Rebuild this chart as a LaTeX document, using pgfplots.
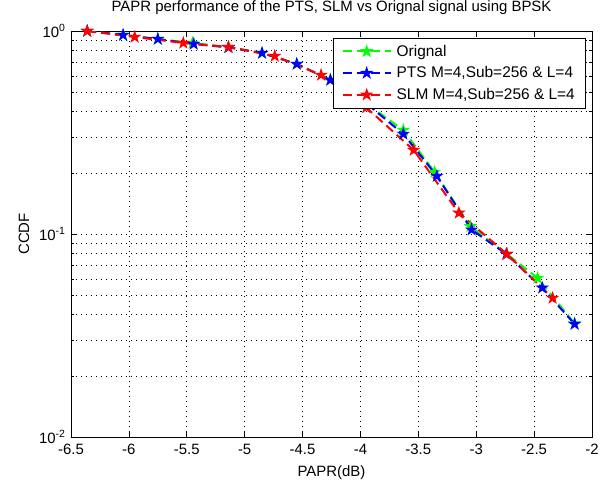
\documentclass[border=0pt]{standalone}
\usepackage{fontspec}
\setmainfont{Liberation Sans}
\usepackage{pgfplots}
\pgfplotsset{compat=1.18}

% filled five-pointed star, like the MATLAB 'p' marker
\pgfdeclareplotmark{pentagram}{%
  \pgfpathmoveto{\pgfqpoint{0pt}{\pgfplotmarksize}}%
  \pgfpathlineto{\pgfqpoint{-0.2245\pgfplotmarksize}{0.309\pgfplotmarksize}}%
  \pgfpathlineto{\pgfqpoint{-0.9511\pgfplotmarksize}{0.309\pgfplotmarksize}}%
  \pgfpathlineto{\pgfqpoint{-0.3633\pgfplotmarksize}{-0.118\pgfplotmarksize}}%
  \pgfpathlineto{\pgfqpoint{-0.5878\pgfplotmarksize}{-0.809\pgfplotmarksize}}%
  \pgfpathlineto{\pgfqpoint{0pt}{-0.382\pgfplotmarksize}}%
  \pgfpathlineto{\pgfqpoint{0.5878\pgfplotmarksize}{-0.809\pgfplotmarksize}}%
  \pgfpathlineto{\pgfqpoint{0.3633\pgfplotmarksize}{-0.118\pgfplotmarksize}}%
  \pgfpathlineto{\pgfqpoint{0.9511\pgfplotmarksize}{0.309\pgfplotmarksize}}%
  \pgfpathlineto{\pgfqpoint{0.2245\pgfplotmarksize}{0.309\pgfplotmarksize}}%
  \pgfpathclose
  \pgfusepathqfillstroke}

\begin{document}
\begin{tikzpicture}[font=\fontsize{15}{18}\selectfont]
\useasboundingbox (-71bp,-51bp) rectangle (536bp,437bp);
\begin{axis}[
  scale only axis, width=521bp, height=406bp,
  at={(0,0)}, anchor=south west,
  ymode=log,
  xmin=-6.5, xmax=-2, ymin=0.01, ymax=1,
  xtick={-6.5,-6,-5.5,-5,-4.5,-4,-3.5,-3,-2.5,-2},
  ytick={0.01,0.1,1},
  yticklabels={10\textsuperscript{-2},10\textsuperscript{-1},10\textsuperscript{0}},
  minor ytick={0.02,0.03,0.04,0.05,0.06,0.07,0.08,0.09,0.2,0.3,0.4,0.5,0.6,0.7,0.8,0.9},
  /pgf/number format/fixed,
  /pgf/number format/assume math mode=true,
  xticklabel style={anchor=base, yshift=-17bp},
  yticklabel style={xshift=-2bp},
  tick align=inside,
  major tick length=5bp, minor tick length=3bp,
  tick style={black, line width=0.6bp},
  axis line style={line width=0.8bp},
  grid=both,
  major grid style={black, line width=0.7bp, dash pattern=on 1bp off 4bp},
  minor grid style={black, line width=0.7bp, dash pattern=on 1bp off 4bp},
  title={PAPR performance of the PTS, SLM vs Orignal signal using BPSK},
  title style={at={(axis description cs:0.5,1)}, anchor=base, inner sep=0pt, yshift=14bp},
  xlabel={PAPR(dB)},
  x label style={at={(axis description cs:0.5,0)}, anchor=base, inner sep=0pt, yshift=-39bp},
  ylabel={CCDF},
  y label style={at={(axis description cs:-0.0806,0.5)}, anchor=base, inner sep=0pt},
  legend style={at={(0.9866,0.983)}, anchor=north east, draw=black,
    fill=white, font=\fontsize{15.5}{18}\selectfont, cells={anchor=west},
    inner xsep=8bp, inner ysep=5bp, row sep=5bp},
  legend image code/.code={%
    \draw[line width=2bp, dash pattern=on 9bp off 5bp, mark repeat=2, mark phase=2, #1]
      plot coordinates {(0bp,0bp) (24bp,0bp) (48bp,0bp)};
    \path (51bp,0bp);},
  every axis plot/.append style={line width=2bp, dash pattern=on 9bp off 5bp,
    mark=pentagram, mark size=5.5bp, mark options={solid, line width=1bp}},
]
\addplot[color={rgb,1:red,0;green,1;blue,0}] coordinates {
 (-6.36,1.0) (-6.05,0.955) (-5.75,0.913) (-5.45,0.873) (-5.14,0.834)
 (-4.85,0.779) (-4.55,0.688) (-4.26,0.574) (-3.95,0.44) (-3.63,0.325)
 (-3.36,0.202) (-3.05,0.109) (-2.735,0.0797) (-2.47,0.0607) (-2.15,0.0362)
};
\addplot[color={rgb,1:red,0;green,0;blue,1}] coordinates {
 (-6.36,1.0) (-6.05,0.956) (-5.75,0.913) (-5.44,0.863) (-5.14,0.83)
 (-4.85,0.779) (-4.55,0.688) (-4.26,0.574) (-3.95,0.44) (-3.63,0.311)
 (-3.34,0.193) (-3.04,0.105) (-2.74,0.0797) (-2.43,0.0543) (-2.15,0.036)
};
\addplot[color={rgb,1:red,1;green,0;blue,0}] coordinates {
 (-6.36,1.0) (-5.95,0.934) (-5.53,0.873) (-5.14,0.834) (-4.74,0.753)
 (-4.34,0.607) (-3.95,0.42) (-3.54,0.259) (-3.15,0.127) (-2.735,0.0797)
 (-2.34,0.0484)
};
\legend{Orignal, {PTS M=4,Sub=256 \& L=4}, {SLM M=4,Sub=256 \& L=4}}
\end{axis}
\end{tikzpicture}
\end{document}
